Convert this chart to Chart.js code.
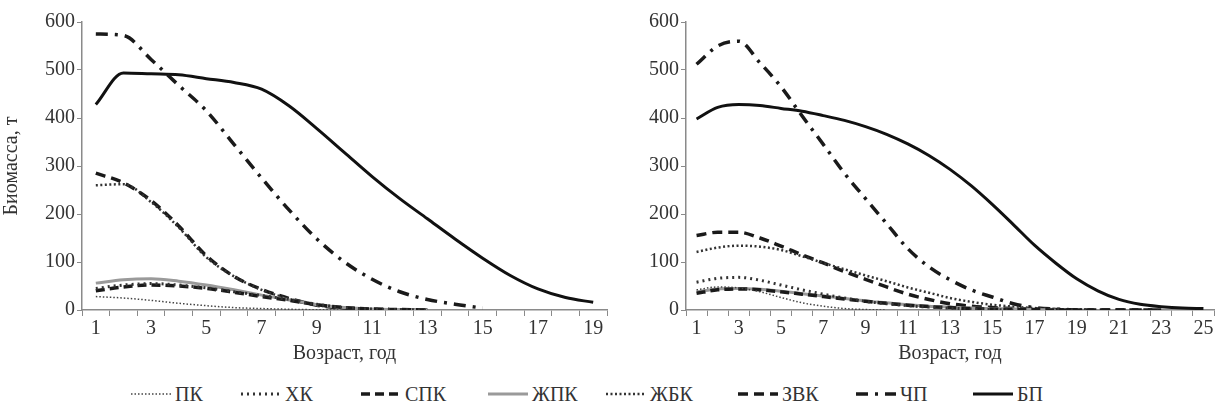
<!DOCTYPE html>
<html lang="ru">
<head>
  <meta charset="UTF-8" />
  <title>Биомасса по возрастам</title>
  <script src="https://cdn.jsdelivr.net/npm/chart.js"></script>
  <style>
    body { margin: 0; background: #fff; width: 1224px; height: 410px; position: relative; overflow: hidden;
           font-family: "Liberation Serif", "DejaVu Serif", serif; color: #333; }
    .box { position: absolute; top: 0; height: 370px; }
    #leftBox { left: 0; width: 615px; }
    #rightBox { left: 615px; width: 609px; }
    .legend { position: absolute; top: 381px; left: 0; width: 1224px; height: 26px; font-size: 20px; }
    .item { position: absolute; top: 0; display: flex; align-items: center; white-space: nowrap; }
    .item svg { margin-right: 3px; }
  </style>
</head>
<body>
  <div class="box" id="leftBox"><canvas id="leftChart"></canvas></div>
  <div class="box" id="rightBox"><canvas id="rightChart"></canvas></div>
  <div class="legend" id="legend"></div>

  <script>
    // возраст, лет
    const agesLeft = [1, 2, 3, 4, 5, 6, 7, 8, 9, 10, 11, 12, 13, 14, 15, 16, 17, 18, 19];
    const agesRight = [1, 2, 3, 4, 5, 6, 7, 8, 9, 10, 11, 12, 13, 14, 15, 16, 17, 18, 19, 20, 21, 22, 23, 24, 25];
    const seriesNames = ['ПК', 'ХК', 'СПК', 'ЖПК', 'ЖБК', 'ЗВК', 'ЧП', 'БП'];

    // биомасса, т (левый график)
    const pkL  = [28, 25, 20, 14, 9, 5, 3, 1.5, 0.5, 0];
    const hkL  = [45, 52, 55, 52, 46, 38, 30, 22, 12, 5, 2, 1, 0];
    const spkL = [40, 48, 52, 50, 45, 37, 28, 20, 11, 5, 2, 1, 0];
    const zhpkL = [56, 63, 65, 60, 52, 42, 31, 21, 11, 5, 2, 1, 0];
    const zhbkL = [260, 262, 225, 172, 110, 70, 42, 23, 10, 4, 1, 0, 0];
    const zvkL = [285, 265, 228, 175, 113, 70, 43, 24, 10, 4, 1, 0, 0];
    const chpL = [575, 572, 522, 468, 415, 345, 275, 208, 148, 100, 64, 38, 22, 12, 4];
    const bpL  = [428, 494, 492, 490, 482, 474, 460, 425, 378, 328, 278, 232, 190, 148, 108, 72, 44, 26, 16];

    // биомасса, т (правый график)
    const pkR  = [42, 48, 46, 38, 26, 15, 8, 3, 1, 0];
    const hkR  = [58, 66, 68, 62, 52, 42, 33, 25, 18, 13, 9, 6, 4, 2, 1, 0];
    const spkR = [35, 42, 44, 42, 38, 33, 28, 23, 18, 14, 10, 7, 5, 3, 2, 1, 1, 0, 0, 0, 0, 0, 0];
    const zhpkR = [38, 44, 45, 43, 39, 34, 29, 24, 19, 15, 11, 8, 6, 4, 3, 2, 1, 0];
    const zhbkR = [121, 130, 134, 132, 125, 112, 98, 85, 72, 60, 47, 36, 25, 17, 11, 7, 4, 2, 1, 0];
    const zvkR = [155, 162, 162, 150, 133, 115, 98, 80, 64, 48, 33, 22, 13, 8, 5, 3, 2, 1, 0, 0, 0, 0, 0];
    const chpR = [512, 550, 560, 515, 465, 404, 345, 285, 232, 180, 128, 90, 63, 42, 27, 13, 5, 2, 0];
    const bpR  = [398, 422, 428, 426, 420, 414, 405, 395, 382, 366, 346, 322, 293, 259, 220, 178, 135, 98, 65, 40, 22, 12, 7, 4, 3];

    const yTicks = [0, 100, 200, 300, 400, 500, 600];

    // стиль линий для каждого ряда
    const styles = [
      { color: '#444', width: 1.5, dash: [1.5, 2] },          // ПК
      { color: '#333', width: 3, dash: [2, 4] },              // ХК
      { color: '#1a1a1a', width: 3.5, dash: [9, 5] },         // СПК
      { color: '#9a9a9a', width: 3, dash: [] },               // ЖПК
      { color: '#333', width: 2.5, dash: [2, 2.5] },          // ЖБК
      { color: '#1a1a1a', width: 3.5, dash: [10, 6] },        // ЗВК
      { color: '#1a1a1a', width: 3.5, dash: [12, 7, 3, 7] },  // ЧП
      { color: '#111', width: 3, dash: [] }                   // БП
    ];

    const font = { family: '"Liberation Serif", "DejaVu Serif", serif', size: 20 };
    const axisColor = '#8a8a8a';

    function makeDatasets(list) {
      return list.map((data, i) => ({
        label: seriesNames[i],
        data: data,
        borderColor: styles[i].color,
        borderWidth: styles[i].width,
        borderDash: styles[i].dash,
        pointRadius: 0,
        fill: false,
        tension: 0.4,
        cubicInterpolationMode: 'monotone',
        spanGaps: false
      }));
    }

    function makeChart(id, ages, list, yWidth, showYTitle, padRight) {
      return new Chart(document.getElementById(id), {
        type: 'line',
        data: { labels: ages, datasets: makeDatasets(list) },
        options: {
          responsive: true,
          maintainAspectRatio: false,
          animation: false,
          layout: { padding: { top: 22, right: padRight, bottom: 0, left: 0 } },
          plugins: { legend: { display: false }, tooltip: { enabled: false } },
          scales: {
            x: {
              type: 'category',
              offset: true,
              border: { color: axisColor, width: 1.5 },
              grid: { drawOnChartArea: false, offset: true, tickLength: 6, color: axisColor },
              ticks: {
                autoSkip: false, maxRotation: 0, color: '#333', font: font, padding: 1,
                callback: (v, i) => (ages[i] % 2 === 1 ? ages[i] : '')
              },
              title: { display: true, text: 'Возраст, год', color: '#333', font: font, padding: { top: 6 } },
              afterFit: s => { s.height = 60; }
            },
            y: {
              min: 0, max: 600,
              afterBuildTicks: s => { s.ticks = yTicks.map(v => ({ value: v })); },
              border: { color: axisColor, width: 1.5 },
              grid: { drawOnChartArea: false, tickLength: 5, color: axisColor },
              ticks: { color: '#333', font: font, padding: 2 },
              title: { display: showYTitle, text: 'Биомасса, т', color: '#333', font: font, padding: 0 },
              afterFit: s => { s.width = yWidth; }
            }
          }
        }
      });
    }

    makeChart('leftChart', agesLeft, [pkL, hkL, spkL, zhpkL, zhbkL, zvkL, chpL, bpL], 82, true, 8);
    makeChart('rightChart', agesRight, [pkR, hkR, spkR, zhpkR, zhbkR, zvkR, chpR, bpR], 71, false, 10);

    // общая легенда под графиками
    const legendX = [130, 240, 360, 487, 605, 737, 855, 972];
    const legend = document.getElementById('legend');
    seriesNames.forEach((name, i) => {
      const st = styles[i];
      const item = document.createElement('div');
      item.className = 'item';
      item.style.left = legendX[i] + 'px';
      item.innerHTML =
        '<svg width="42" height="26"><line x1="1" y1="13" x2="41" y2="13" stroke="' + st.color +
        '" stroke-width="' + st.width + '" stroke-dasharray="' + (st.dash.length ? st.dash.join(' ') : 'none') +
        '"/></svg><span>' + name + '</span>';
      legend.appendChild(item);
    });
  </script>
</body>
</html>
